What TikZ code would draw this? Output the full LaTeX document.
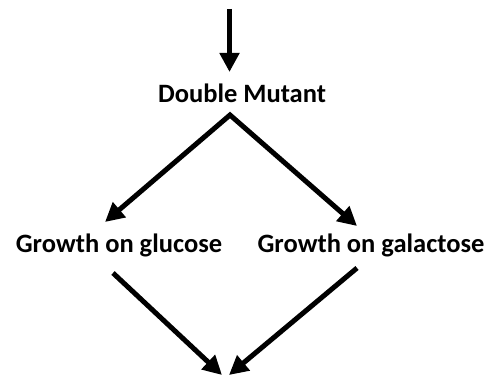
\documentclass[tikz,border=0pt]{standalone}
\usepackage{fontspec}
\setmainfont{Carlito}
\usetikzlibrary{arrows.meta}
\begin{document}
\begin{tikzpicture}[x=1pt,y=1pt,
  lbl/.style={font=\fontsize{26.5}{30}\selectfont\bfseries, inner sep=0pt, anchor=base},
  arr/.style={line width=5pt, line join=miter, -{Triangle[length=19pt,width=19pt]}}]
\useasboundingbox (0,0) rectangle (494,377);
\coordinate (top) at (229.5,368);
\coordinate (topT) at (229.5,305);
\node[lbl] (dm) at (242,274) {Double Mutant};
\coordinate (apex) at (230,262);
\coordinate (gluT) at (105,155);
\coordinate (galT) at (357,151);
\node[lbl] (glu) at (119,124) {Growth on glucose};
\node[lbl] (gal) at (371,124) {Growth on galactose};
\coordinate (gluS) at (113,104);
\coordinate (galS) at (357,109);
\coordinate (botL) at (222,2);
\coordinate (botR) at (229,2);
\draw[arr] (top) -- (topT);
\draw[arr, {Triangle[length=19pt,width=19pt]}-{Triangle[length=19pt,width=19pt]}] (gluT) -- (apex) -- (galT);
\draw[arr] (gluS) -- (botL);
\draw[arr] (galS) -- (botR);
\end{tikzpicture}
\end{document}
